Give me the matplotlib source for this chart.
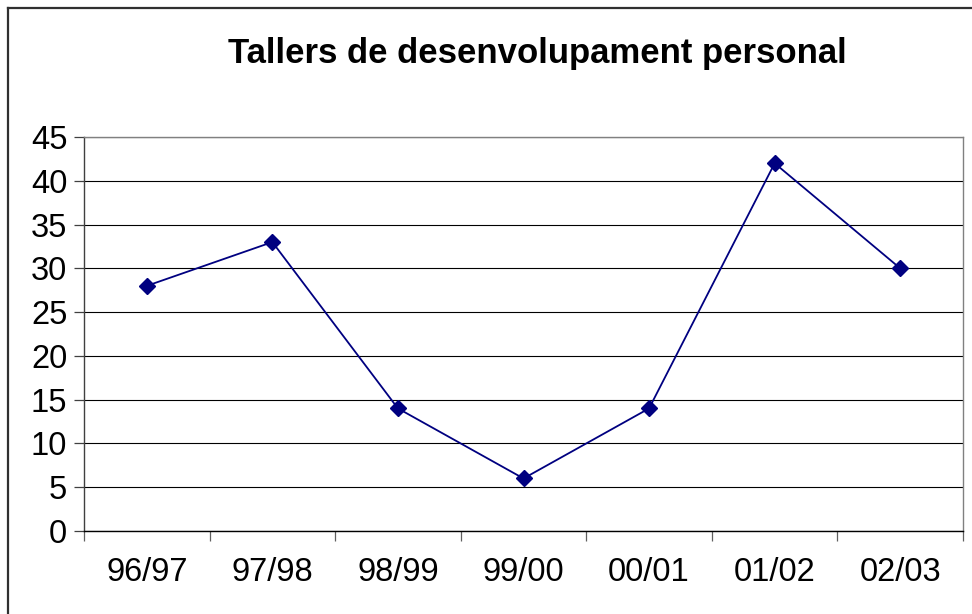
import matplotlib.pyplot as plt
from matplotlib.lines import Line2D

cursos = ['96/97', '97/98', '98/99', '99/00', '00/01', '01/02', '02/03']
tallers = [28, 33, 14, 6, 14, 42, 30]
y_ticks = [0, 5, 10, 15, 20, 25, 30, 35, 40, 45]

plt.rcParams['font.family'] = ['Liberation Sans', 'DejaVu Sans']

fig = plt.figure(figsize=(9.72, 6.14), dpi=100)
ax = fig.add_axes([84 / 972, 83 / 614, 879 / 972, 394 / 614])

x = list(range(len(cursos)))
ax.plot(x, tallers, color='#000080', lw=1.3, marker='D', markersize=8.5,
        markerfacecolor='#000080', markeredgecolor='#000080', zorder=3)

ax.set_xlim(-0.5, len(cursos) - 0.5)
ax.set_ylim(0, 45)
ax.set_yticks(y_ticks)
ax.set_xticks(x)
ax.set_xticklabels(cursos)
ax.set_xticks([i - 0.5 for i in range(len(cursos) + 1)], minor=True)

# horizontal gridlines only
ax.yaxis.grid(True, color='black', lw=0.8)
ax.set_axisbelow(True)

ax.tick_params(axis='y', direction='out', length=7, width=0.9, color='#404040',
               labelsize=23.5, pad=5)
ax.tick_params(axis='x', which='major', length=0, labelsize=23.5, pad=19)
ax.tick_params(axis='x', which='minor', direction='out', length=7, width=0.9,
               color='#606060')

ax.spines['top'].set_color('#808080')
ax.spines['right'].set_color('#808080')
ax.spines['left'].set_color('#404040')
ax.spines['bottom'].set_color('black')
for s in ax.spines.values():
    s.set_linewidth(1.0)

fig.text(537 / 972, 1 - 53 / 614, 'Tallers de desenvolupament personal',
         ha='center', va='center', fontsize=25, fontweight='bold')

# chart frame (top and left edges)
fig.add_artist(Line2D([7.5 / 972, 1], [1 - 7.5 / 614, 1 - 7.5 / 614],
                      transform=fig.transFigure, color='#303030', lw=1.6))
fig.add_artist(Line2D([7.5 / 972, 7.5 / 972], [0, 1 - 7.5 / 614],
                      transform=fig.transFigure, color='#303030', lw=1.6))

fig.savefig('out.png', dpi=100)
